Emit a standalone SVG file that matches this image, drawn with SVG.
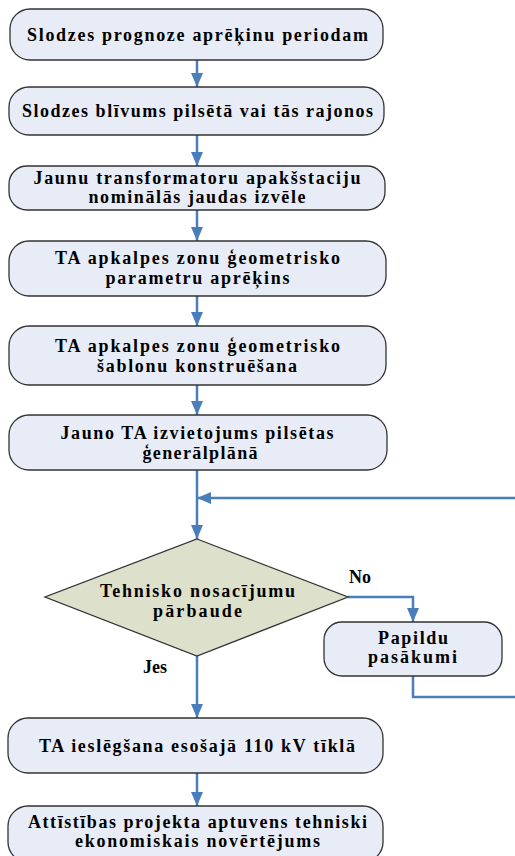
<svg xmlns="http://www.w3.org/2000/svg" width="515" height="856" viewBox="0 0 515 856">
<defs>
<style>
.box{fill:#e8ecf7;stroke:#333;stroke-width:1.3}
.dia{fill:#dde0cb;stroke:#333;stroke-width:1.3}
.c{fill:none;stroke:#4a7ebb;stroke-width:2.5}
.a{marker-end:url(#arr)}
</style>
<marker id="arr" markerUnits="userSpaceOnUse" markerWidth="14" markerHeight="12" refX="14" refY="6" orient="auto">
<path d="M0,0 L14,6 L0,12 Z" fill="#4a7ebb"/>
</marker>
</defs>
<g id="connectors">
<path class="c a" d="M197,60 V87"/>
<path class="c a" d="M197,135 V166"/>
<path class="c a" d="M197,210 V241"/>
<path class="c a" d="M197,296 V326"/>
<path class="c a" d="M197,385 V415"/>
<path class="c a" d="M197,470 V539"/>
<path class="c a" d="M348,597 H413 V622"/>
<path class="c a" d="M413,676 V697 H520 V498 H197"/>
<path class="c a" d="M197,656 V718"/>
<path class="c a" d="M197,773 V806"/>
</g>
<g font-family="Liberation Serif" font-weight="bold" font-size="18" fill="#000" text-anchor="middle">
<g id="n1"><rect class="box" x="10" y="9" width="373" height="51" rx="20"/><text x="197.5" y="41" textLength="341" lengthAdjust="spacing">Slodzes prognoze aprēķinu periodam</text></g>
<g id="n2"><rect class="box" x="9" y="87" width="375" height="48" rx="20"/><text x="197.5" y="117" textLength="351" lengthAdjust="spacing">Slodzes blīvums pilsētā vai tās rajonos</text></g>
<g id="n3"><rect class="box" x="9" y="166" width="376" height="44" rx="18"/><text x="197" y="184" textLength="327" lengthAdjust="spacing">Jaunu transformatoru apakšstaciju</text><text x="197" y="203" textLength="217" lengthAdjust="spacing">nominālās jaudas izvēle</text></g>
<g id="n4"><rect class="box" x="9" y="241" width="377" height="55" rx="20"/><text x="197.5" y="264" textLength="285" lengthAdjust="spacing">TA apkalpes zonu ģeometrisko</text><text x="197.5" y="284" textLength="184" lengthAdjust="spacing">parametru aprēķins</text></g>
<g id="n5"><rect class="box" x="9" y="326" width="377" height="59" rx="20"/><text x="197.5" y="352" textLength="285" lengthAdjust="spacing">TA apkalpes zonu ģeometrisko</text><text x="197" y="372" textLength="200" lengthAdjust="spacing">šablonu konstruēšana</text></g>
<g id="n6"><rect class="box" x="9" y="415" width="378" height="55" rx="20"/><text x="197" y="439" textLength="273" lengthAdjust="spacing">Jauno TA izvietojums pilsētas</text><text x="200" y="459" textLength="115" lengthAdjust="spacing">ģenerālplānā</text></g>
<g id="n7"><polygon class="dia" points="197,539 348,597 197,656 45,597"/><text x="197.5" y="597" textLength="195" lengthAdjust="spacing">Tehnisko nosacījumu</text><text x="197.5" y="617" textLength="89" lengthAdjust="spacing">pārbaude</text></g>
<g id="n8"><rect class="box" x="324" y="622" width="178" height="54" rx="18"/><text x="413" y="644" textLength="70" lengthAdjust="spacing">Papildu</text><text x="412.5" y="663" textLength="89" lengthAdjust="spacing">pasākumi</text></g>
<g id="n9"><rect class="box" x="8" y="718" width="375" height="55" rx="20"/><text x="197" y="752" textLength="316" lengthAdjust="spacing">TA ieslēgšana esošajā 110 kV tīklā</text></g>
<g id="n10"><rect class="box" x="8" y="806" width="375" height="56" rx="20"/><text x="197.5" y="828" textLength="339" lengthAdjust="spacing">Attīstības projekta aptuvens tehniski</text><text x="197.5" y="847" textLength="245" lengthAdjust="spacing">ekonomiskais novērtējums</text></g>
<g id="labels" text-anchor="start"><text x="349" y="583">No</text><text x="143" y="673">Jes</text></g>
</g>
</svg>
